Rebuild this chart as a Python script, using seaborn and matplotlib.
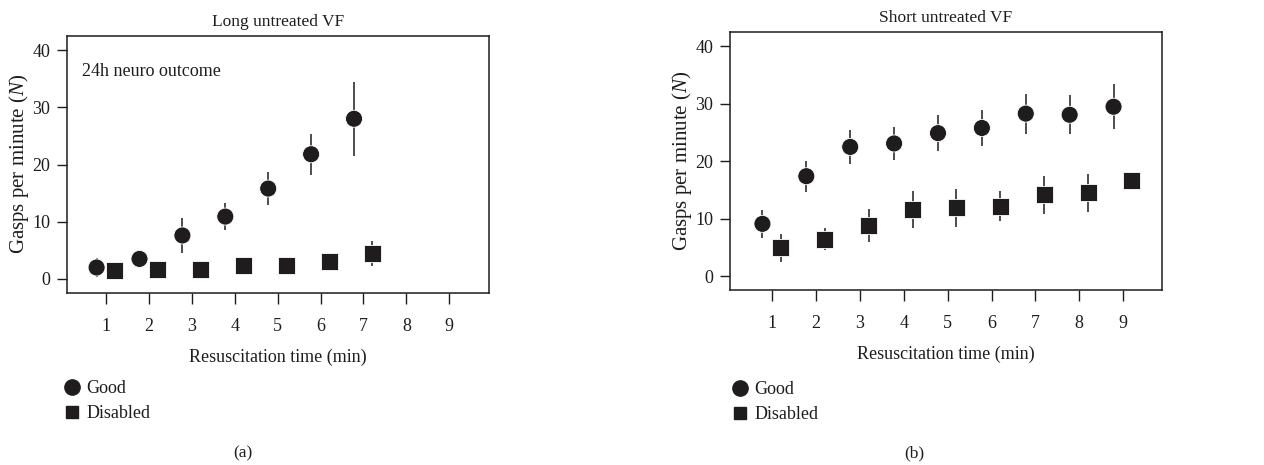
import numpy as np
import pandas as pd
import matplotlib
matplotlib.use('Agg')
import matplotlib.pyplot as plt
from matplotlib.lines import Line2D
import seaborn as sns

# resuscitation time points (min)
time_long = [1, 2, 3, 4, 5, 6, 7]
time_short = [1, 2, 3, 4, 5, 6, 7, 8, 9]

# long untreated VF
long_good = [2.0, 3.5, 7.6, 10.9, 15.8, 21.8, 28.0]
long_good_err = [1.7, 1.2, 3.0, 2.4, 2.9, 3.6, 6.5]
long_disabled = [1.4, 1.6, 1.7, 2.4, 2.4, 3.0, 4.4]
long_disabled_err = [0.4, 0.4, 0.4, 0.5, 0.5, 0.9, 2.2]

# short untreated VF
short_good = [9.1, 17.4, 22.5, 23.1, 24.9, 25.8, 28.3, 28.1, 29.5]
short_good_err = [2.4, 2.7, 2.9, 2.8, 3.1, 3.2, 3.5, 3.4, 3.9]
short_disabled = [4.9, 6.4, 8.8, 11.6, 11.9, 12.2, 14.2, 14.5, 16.6]
short_disabled_err = [2.4, 1.9, 2.9, 3.2, 3.3, 2.6, 3.3, 3.3, 0.5]

groups = ['Good', 'Disabled']
titles = ['Long untreated VF', 'Short untreated VF']
captions = ['(a)', '(b)']

ink = '#1e1c1d'

sns.set_theme(style='ticks')
plt.rcParams['font.family'] = ['Liberation Serif', 'DejaVu Serif']
plt.rcParams['mathtext.fontset'] = 'custom'
plt.rcParams['mathtext.it'] = 'Liberation Serif:italic'
plt.rcParams['mathtext.rm'] = 'Liberation Serif'


def make_frame(t, good, good_err, dis, dis_err):
    t = np.array(t, dtype=float)
    df_g = pd.DataFrame({'time': t - 0.22, 'value': good, 'err': good_err, 'group': 'Good'})
    df_d = pd.DataFrame({'time': t + 0.2, 'value': dis, 'err': dis_err, 'group': 'Disabled'})
    return pd.concat([df_g, df_d], ignore_index=True)


frames = [make_frame(time_long, long_good, long_good_err, long_disabled, long_disabled_err),
          make_frame(time_short, short_good, short_good_err, short_disabled, short_disabled_err)]

fig = plt.figure(figsize=(12.64, 4.65), dpi=100)
positions = [[0.053, 0.370, 0.334, 0.553],
             [0.5775, 0.376, 0.342, 0.555]]
xlims = [(0.09, 9.93), (0.04, 9.89)]
legend_x = [-0.023, -0.011]
legend_y = [-0.31, -0.325]
caption_x = [0.1922, 0.723]

for i, df in enumerate(frames):
    ax = fig.add_axes(positions[i])
    ax.vlines(df['time'], df['value'] - df['err'], df['value'] + df['err'],
              color=ink, lw=1.1, zorder=2)
    sns.scatterplot(data=df, x='time', y='value', style='group',
                    markers={'Good': 'o', 'Disabled': 's'},
                    s=150, color=ink, edgecolor='white', linewidth=0.6,
                    legend=False, ax=ax, zorder=3)
    ax.set_xlim(*xlims[i])
    ax.set_ylim(-2.45, 42.5)
    ax.set_xticks(range(1, 10))
    ax.set_yticks([0, 10, 20, 30, 40])
    ax.tick_params(axis='x', direction='out', length=8, width=1, pad=10,
                   labelsize=13, colors=ink)
    ax.tick_params(axis='y', direction='out', length=7, width=1, pad=5,
                   labelsize=13, colors=ink)
    for sp in ax.spines.values():
        sp.set_visible(True)
        sp.set_color(ink)
        sp.set_linewidth(1.1)
    ax.set_xlabel('Resuscitation time (min)', fontsize=13, color=ink, labelpad=10)
    ax.set_ylabel('Gasps per minute ($N$)', fontsize=15, color=ink, labelpad=1)
    ax.set_title(titles[i], fontsize=12.5, color=ink, pad=7)

    handles = [Line2D([], [], marker='o', ls='', color=ink, markersize=11),
               Line2D([], [], marker='s', ls='', color=ink, markersize=9)]
    leg = ax.legend(handles, groups, loc='upper left', bbox_to_anchor=(legend_x[i], legend_y[i]),
                    frameon=False, fontsize=13, handlelength=0.8, handletextpad=0.4,
                    labelspacing=0.45, borderaxespad=0)
    for txt in leg.get_texts():
        txt.set_color(ink)

    fig.text(caption_x[i], 0.008, captions[i],
             ha='center', va='bottom', fontsize=12.5, color=ink)

fig.axes[0].text(0.035, 0.86, '24h neuro outcome', transform=fig.axes[0].transAxes,
                 fontsize=13, color=ink, ha='left', va='center')

fig.savefig('out.png', dpi=100)
